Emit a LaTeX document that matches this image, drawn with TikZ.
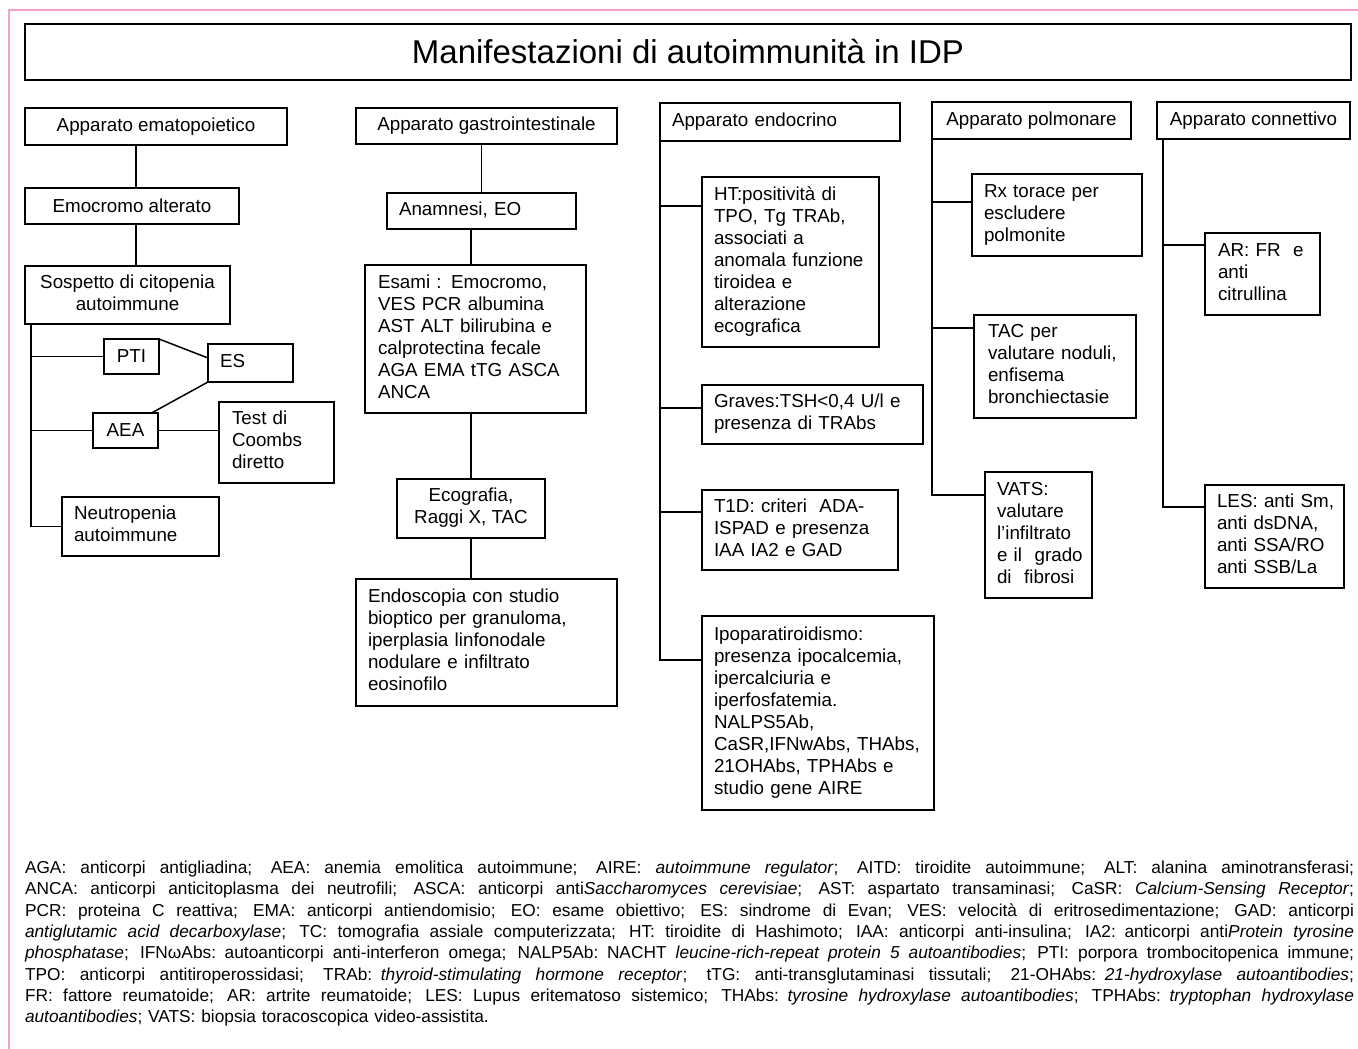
\documentclass[tikz,border=0pt]{standalone}
\usepackage{fontspec}
\setmainfont{Liberation Sans}
\newfontfamily\notefont{Liberation Sans}
\definecolor{pinkline}{RGB}{244,160,200}
\newcommand{\lns}[1]{\begin{tabular}{@{}l@{}}#1\end{tabular}}
\newcommand{\clns}[1]{\begin{tabular}{@{}c@{}}#1\end{tabular}}
\newcommand{\fl}[1]{\leavevmode\hbox to 1329pt{\spaceskip=\fontdimen2\font plus 1fil\relax #1}}
\tikzset{
  bx/.style={draw, line width=1.5pt, anchor=north west, inner ysep=0pt, outer sep=0pt,
    font=\fontsize{18.8}{22}\selectfont},
  lbx/.style={bx, inner xsep=12pt, align=left},
  cbx/.style={bx, inner xsep=0pt, align=center},
  conn/.style={line width=1.5pt},
}
\begin{document}
\begin{tikzpicture}[x=1pt,y=-1pt]
\useasboundingbox (0,0) rectangle (1358,1049);
\fill[white] (0,0) rectangle (1358,1049);
\draw[pinkline, line width=2.5pt] (1358,10) -- (9,10) -- (9,1049);

% title
\node[draw, line width=2.2pt, anchor=north west, minimum width=1326pt, minimum height=56pt,
  inner sep=0pt, outer sep=0pt, font=\fontsize{33}{36}\selectfont] (title) at (25,24)
  {Manifestazioni di autoimmunità in IDP};

% column 1
\node[cbx, minimum width=262pt, minimum height=37pt] (ema) at (25,108) {Apparato ematopoietico};
\node[cbx, minimum width=214pt, minimum height=36pt] (emo) at (25,188) {Emocromo alterato};
\node[cbx, minimum width=205pt, minimum height=58pt] (sos) at (25,266) {\clns{Sospetto di citopenia\\autoimmune}};
\node[cbx, minimum width=55pt, minimum height=35pt] (pti) at (104,339) {PTI};
\node[lbx, text width=61pt, minimum height=38pt] (es) at (208,344) {\lns{ES}};
\node[cbx, minimum width=65pt, minimum height=35pt] (aea) at (93,413) {AEA};
\node[lbx, inner xsep=13pt, text width=89pt, minimum height=81pt] (test) at (219,402) {\lns{Test di\\Coombs\\diretto}};
\node[lbx, text width=133pt, minimum height=59pt] (neu) at (62,497) {\lns{Neutropenia\\autoimmune}};

\coordinate (c1) at (136,0);
\coordinate (t1) at (31,0);
\draw[conn] (ema.south -| c1) -- (emo.north -| c1);
\draw[conn] (emo.south -| c1) -- (sos.north -| c1);
\draw[conn] (sos.south -| t1) |- (neu.west);
\draw[conn] (pti.west -| t1) -- (pti.west);
\draw[conn] (aea.west -| t1) -- (aea.west);
\draw[conn] (aea.east) -- (aea.east -| test.west);
\draw[conn] (pti.north east) -- ([yshift=5pt]es.west);
\draw[conn] (es.south west) -- ([xshift=26pt]aea.north);

% column 2
\node[cbx, minimum width=261pt, minimum height=36pt] (gi) at (356,108) {Apparato gastrointestinale};
\node[lbx, text width=165pt, minimum height=36pt] (ana) at (387,193) {\lns{Anamnesi, EO}};
\node[lbx, inner xsep=13pt, text width=195pt, minimum height=148pt] (esa) at (365,265)
  {\lns{Esami : Emocromo,\\VES PCR albumina\\AST ALT bilirubina e\\calprotectina fecale\\AGA EMA tTG ASCA\\ANCA}};
\node[cbx, minimum width=148pt, minimum height=59pt] (eco) at (397,479) {\clns{Ecografia,\\Raggi X, TAC}};
\node[lbx, text width=237pt, minimum height=127pt] (endo) at (356,579)
  {\lns{Endoscopia con studio\\bioptico per granuloma,\\iperplasia linfonodale\\nodulare e infiltrato\\eosinofilo}};

\coordinate (c2) at (471,0);
\draw[conn] (gi.south -| ana.north) -- (ana.north);
\draw[conn] (ana.south -| c2) -- (esa.north -| c2);
\draw[conn] (esa.south -| c2) -- (eco.north -| c2);
\draw[conn] (eco.south -| c2) -- (endo.north -| c2);

% column 3
\node[lbx, text width=216pt, minimum height=38pt] (endc) at (660,103) {\lns{Apparato endocrino}};
\node[lbx, text width=153pt, minimum height=170pt] (ht) at (702,177)
  {\lns{HT:positività di\\TPO, Tg TRAb,\\associati a\\anomala funzione\\tiroidea e\\alterazione\\ecografica}};
\node[lbx, text width=197pt, minimum height=59pt] (gra) at (702,385)
  {\lns{Graves:TSH<0,4 U/l e\\presenza di TRAbs}};
\node[lbx, text width=172pt, minimum height=80pt] (t1d) at (702,490)
  {\lns{T1D: criteri~ ADA-\\ISPAD e presenza\\IAA IA2 e GAD}};
\node[lbx, text width=208pt, minimum height=194pt] (ipo) at (702,616)
  {\lns{Ipoparatiroidismo:\\presenza ipocalcemia,\\ipercalciuria e\\iperfosfatemia.\\NALPS5Ab,\\CaSR,IFNwAbs, THAbs,\\21OHAbs, TPHAbs e\\studio gene AIRE}};

\coordinate (htC) at ([yshift=-29pt]ht.north west);
\coordinate (graC) at ([yshift=-23pt]gra.north west);
\coordinate (t1dC) at ([yshift=-22pt]t1d.north west);
\coordinate (ipoC) at ([yshift=-44pt]ipo.north west);
\draw[conn] (endc.south west) |- (ipoC);
\draw[conn] (htC -| endc.west) -- (htC);
\draw[conn] (graC -| endc.west) -- (graC);
\draw[conn] (t1dC -| endc.west) -- (t1dC);

% column 4
\node[cbx, minimum width=199pt, minimum height=37pt] (pol) at (932,102) {Apparato polmonare};
\node[lbx, text width=146pt, minimum height=82pt] (rx) at (972,174)
  {\lns{Rx torace per\\escludere\\polmonite}};
\node[lbx, inner xsep=14pt, text width=134pt, minimum height=103pt] (tac) at (974,315)
  {\lns{TAC per\\valutare noduli,\\enfisema\\bronchiectasie}};
\node[lbx, text width=83pt, minimum height=126pt] (vats) at (985,472)
  {\lns{VATS:\\valutare\\l’infiltrato\\e il~ grado\\di~ fibrosi}};

\coordinate (rxC) at ([yshift=-28pt]rx.north west);
\coordinate (tacC) at ([yshift=-13pt]tac.north west);
\coordinate (vatsC) at ([yshift=-23pt]vats.north west);
\draw[conn] (pol.south west) |- (vatsC);
\draw[conn] (rxC -| pol.west) -- (rxC);
\draw[conn] (tacC -| pol.west) -- (tacC);

% column 5
\node[cbx, minimum width=193pt, minimum height=37pt] (con) at (1157,102) {Apparato connettivo};
\node[lbx, inner xsep=13pt, text width=89pt, minimum height=82pt] (ar) at (1205,233)
  {\lns{AR: FR~ e\\anti\\citrullina}};
\node[lbx, text width=115pt, minimum height=103pt] (les) at (1205,485)
  {\lns{LES: anti Sm,\\anti dsDNA,\\anti SSA/RO\\anti SSB/La}};

\coordinate (t5) at (1163,0);
\coordinate (arC) at ([yshift=-12pt]ar.north west);
\coordinate (lesC) at ([yshift=-22pt]les.north west);
\draw[conn] (con.south -| t5) |- (lesC);
\draw[conn] (arC -| t5) -- (arC);

% footnote
\node[anchor=north west, inner sep=0pt, outer sep=0pt, text width=1329pt, align=left,
  font=\notefont\fontsize{17.3}{21.3}\selectfont] (note) at (25,861)
{\fl{AGA: anticorpi antigliadina; AEA: anemia emolitica autoimmune; AIRE: \textit{autoimmune regulator}; AITD: tiroidite autoimmune; ALT: alanina aminotransferasi;}\\
\fl{ANCA: anticorpi anticitoplasma dei neutrofili; ASCA: anticorpi anti\textit{Saccharomyces cerevisiae}; AST: aspartato transaminasi; CaSR: \textit{Calcium-Sensing Receptor};}\\
\fl{PCR: proteina C reattiva; EMA: anticorpi antiendomisio; EO: esame obiettivo; ES: sindrome di Evan; VES: velocità di eritrosedimentazione; GAD: anticorpi}\\
\fl{\textit{antiglutamic acid decarboxylase}; TC: tomografia assiale computerizzata; HT: tiroidite di Hashimoto; IAA: anticorpi anti-insulina; IA2: anticorpi anti\textit{Protein tyrosine}}\\
\fl{\textit{phosphatase}; IFNωAbs: autoanticorpi anti-interferon omega; NALP5Ab: NACHT \textit{leucine-rich-repeat protein 5 autoantibodies}; PTI: porpora trombocitopenica immune;}\\
\fl{TPO: anticorpi antitiroperossidasi; TRAb: \textit{thyroid-stimulating hormone receptor}; tTG: anti-transglutaminasi tissutali; 21-OHAbs: \textit{21-hydroxylase autoantibodies};}\\
\fl{FR: fattore reumatoide; AR: artrite reumatoide; LES: Lupus eritematoso sistemico; THAbs: \textit{tyrosine hydroxylase autoantibodies}; TPHAbs: \textit{tryptophan hydroxylase}}\\
\textit{autoantibodies}; VATS: biopsia toracoscopica video-assistita.};
\end{tikzpicture}
\end{document}
